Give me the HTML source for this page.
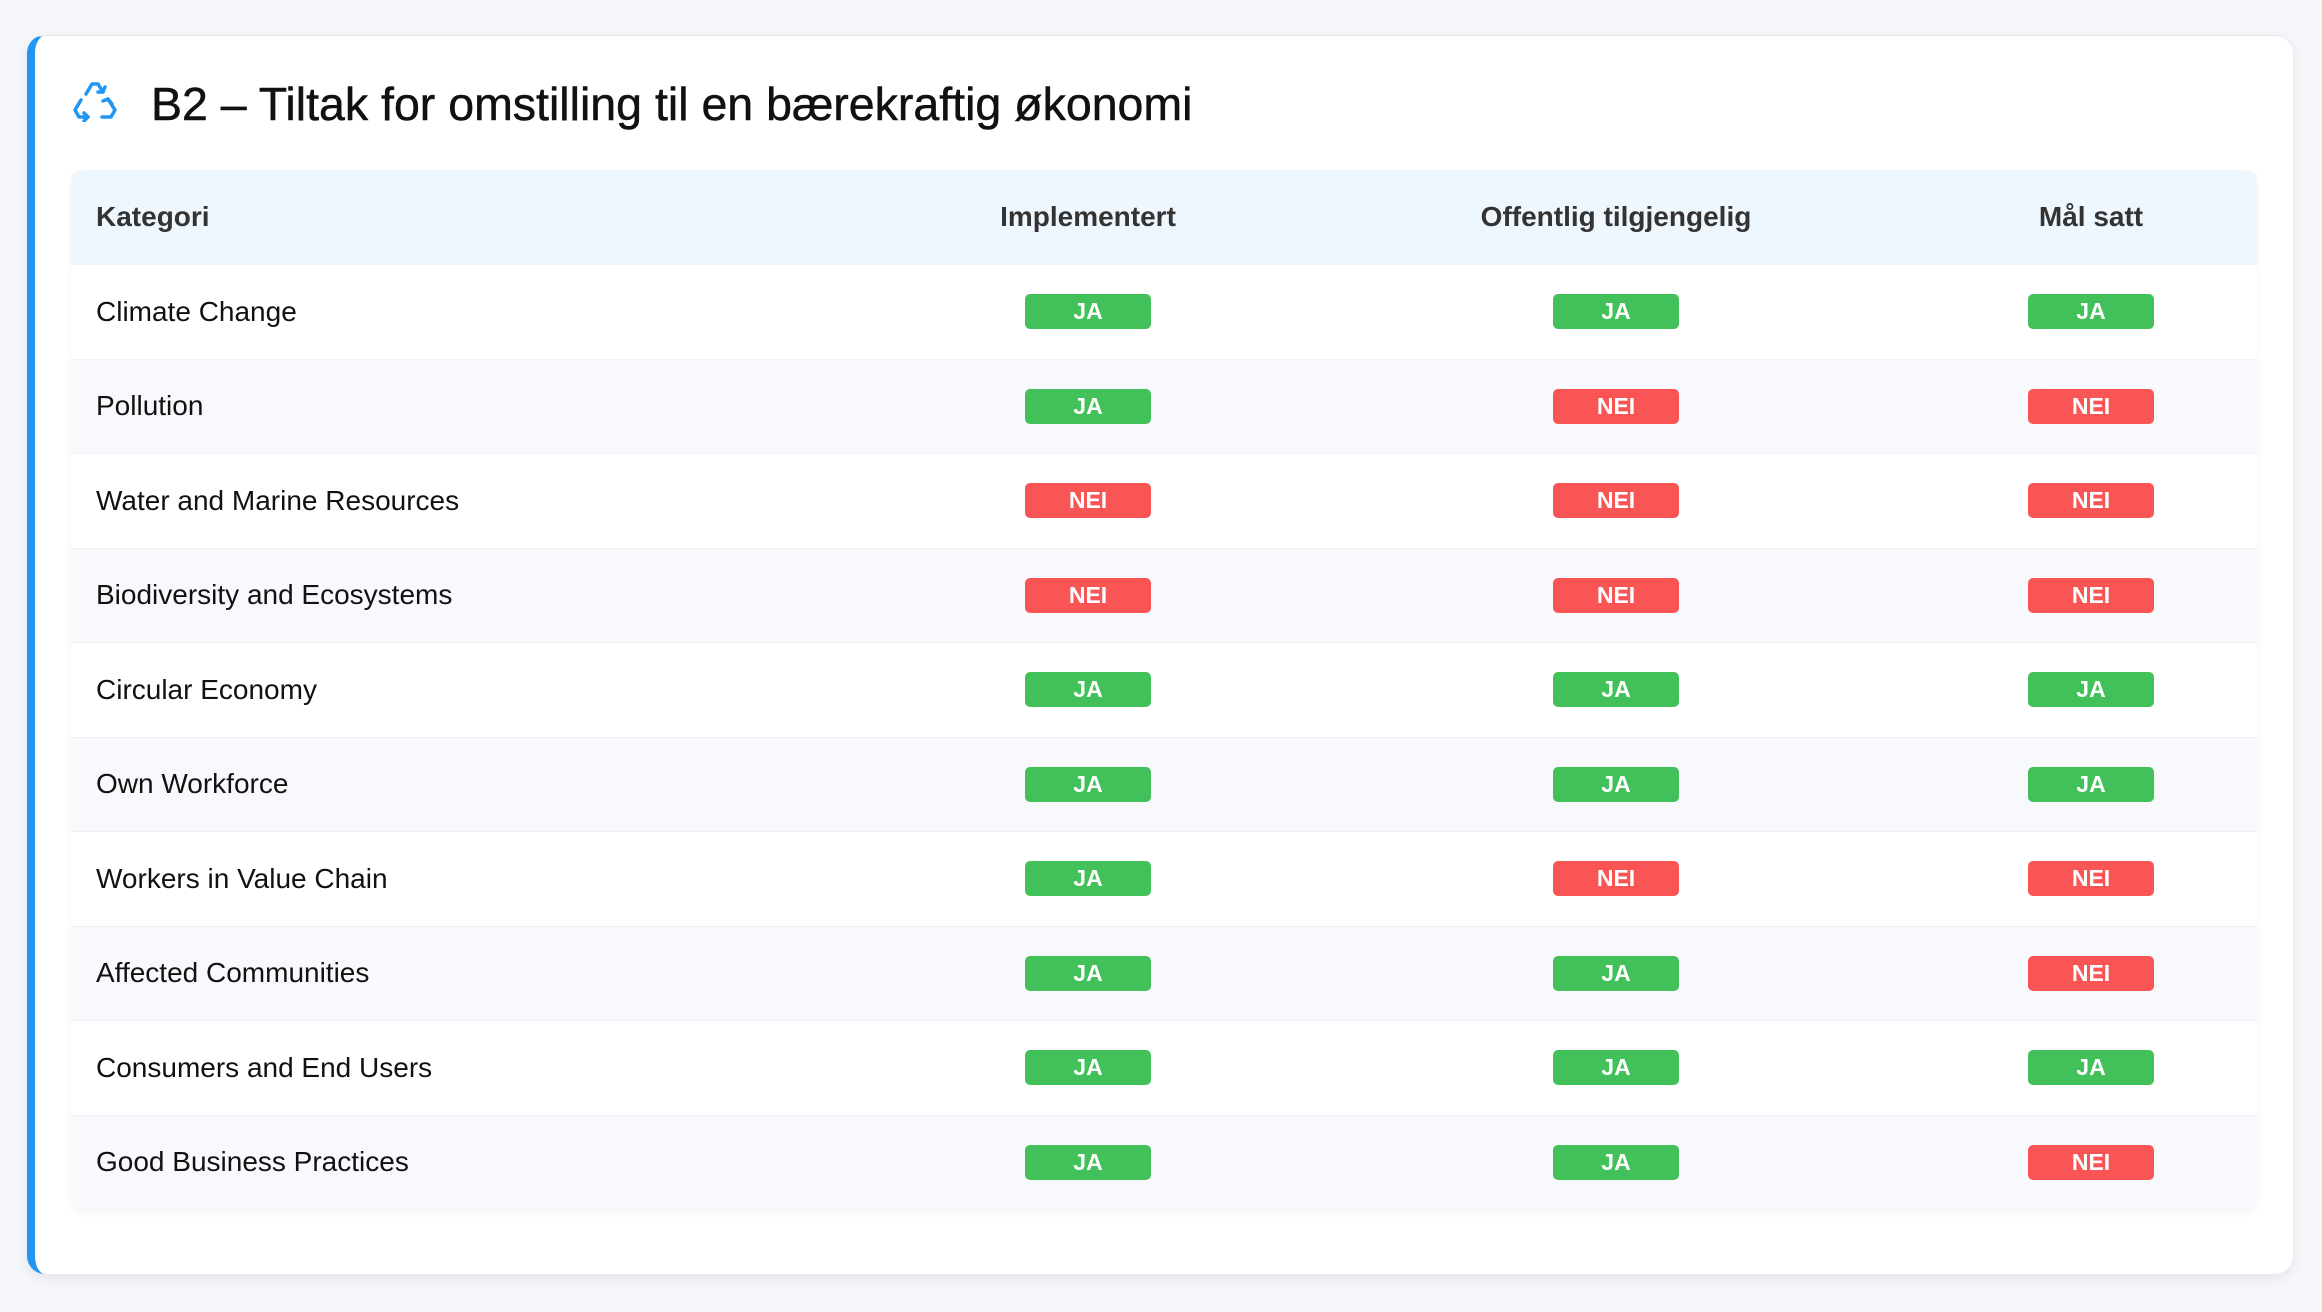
<!DOCTYPE html>
<html><head><meta charset="utf-8"><style>
html,body{margin:0;padding:0;width:2322px;height:1312px;background:#f5f7fa;font-family:"Liberation Sans",Arial,sans-serif;overflow:hidden}
.card{position:absolute;left:27px;top:35px;width:2266px;height:1239px;background:#fff;border-radius:18px;border-left:8px solid #2196f3;box-sizing:border-box;box-shadow:0 4px 14px rgba(0,0,0,0.08);border-top:1px solid #e3e7ec}
.title{position:absolute;left:151px;top:75px;font-size:46.5px;color:#111;line-height:58px;-webkit-text-stroke:0.5px #111}
.icon{position:absolute;left:72px;top:80px}
table{position:absolute;left:71px;top:170px;width:2186px;border-collapse:collapse;box-shadow:0 3px 8px rgba(0,0,0,0.05);border-radius:12px;overflow:hidden}
th{height:94px;background:#eef6fe;font-size:28px;font-weight:bold;color:#333;text-align:center;padding:0}
th:first-child,td:first-child{text-align:left;padding-left:25px}
td{height:93.5px;font-size:28px;color:#111;text-align:center;padding:0;border-top:1.5px solid #edf0f4}
tr:nth-child(odd) td{background:#f7f9fc}
.b{display:inline-block;width:126px;height:35px;line-height:35px;border-radius:5px;color:#fff;font-weight:bold;font-size:23px;vertical-align:middle}
.j{background:#42c15a}.n{background:#fa5555}
</style></head><body>
<div class="card"></div>
<svg class="icon" width="46" height="42" viewBox="0 0 46 42" fill="none" stroke="#2196f3" stroke-width="3.5" stroke-linecap="round" stroke-linejoin="round">
<path d="M14 14 L20 4 L26 4 L31 12"/><path d="M26 12 L31 12 L33 7"/>
<path d="M9 20 L3 30 L7 37 L16 37"/><path d="M12 33 L16 37 L12 41"/>
<path d="M36 19 L43 30 L39 37 L30 37"/><path d="M40 24 L36 19 L31 21"/>
</svg>
<div class="title">B2 – Tiltak for omstilling til en bærekraftig økonomi</div>
<table>
<colgroup><col style="width:798px"><col style="width:438px"><col style="width:618px"><col style="width:332px"></colgroup>
<tr><th>Kategori</th><th>Implementert</th><th>Offentlig tilgjengelig</th><th>Mål satt</th></tr>
<tr><td>Climate Change</td><td><span class="b j">JA</span></td><td><span class="b j">JA</span></td><td><span class="b j">JA</span></td></tr>
<tr><td>Pollution</td><td><span class="b j">JA</span></td><td><span class="b n">NEI</span></td><td><span class="b n">NEI</span></td></tr>
<tr><td>Water and Marine Resources</td><td><span class="b n">NEI</span></td><td><span class="b n">NEI</span></td><td><span class="b n">NEI</span></td></tr>
<tr><td>Biodiversity and Ecosystems</td><td><span class="b n">NEI</span></td><td><span class="b n">NEI</span></td><td><span class="b n">NEI</span></td></tr>
<tr><td>Circular Economy</td><td><span class="b j">JA</span></td><td><span class="b j">JA</span></td><td><span class="b j">JA</span></td></tr>
<tr><td>Own Workforce</td><td><span class="b j">JA</span></td><td><span class="b j">JA</span></td><td><span class="b j">JA</span></td></tr>
<tr><td>Workers in Value Chain</td><td><span class="b j">JA</span></td><td><span class="b n">NEI</span></td><td><span class="b n">NEI</span></td></tr>
<tr><td>Affected Communities</td><td><span class="b j">JA</span></td><td><span class="b j">JA</span></td><td><span class="b n">NEI</span></td></tr>
<tr><td>Consumers and End Users</td><td><span class="b j">JA</span></td><td><span class="b j">JA</span></td><td><span class="b j">JA</span></td></tr>
<tr><td>Good Business Practices</td><td><span class="b j">JA</span></td><td><span class="b j">JA</span></td><td><span class="b n">NEI</span></td></tr>
</table>
</body></html>
